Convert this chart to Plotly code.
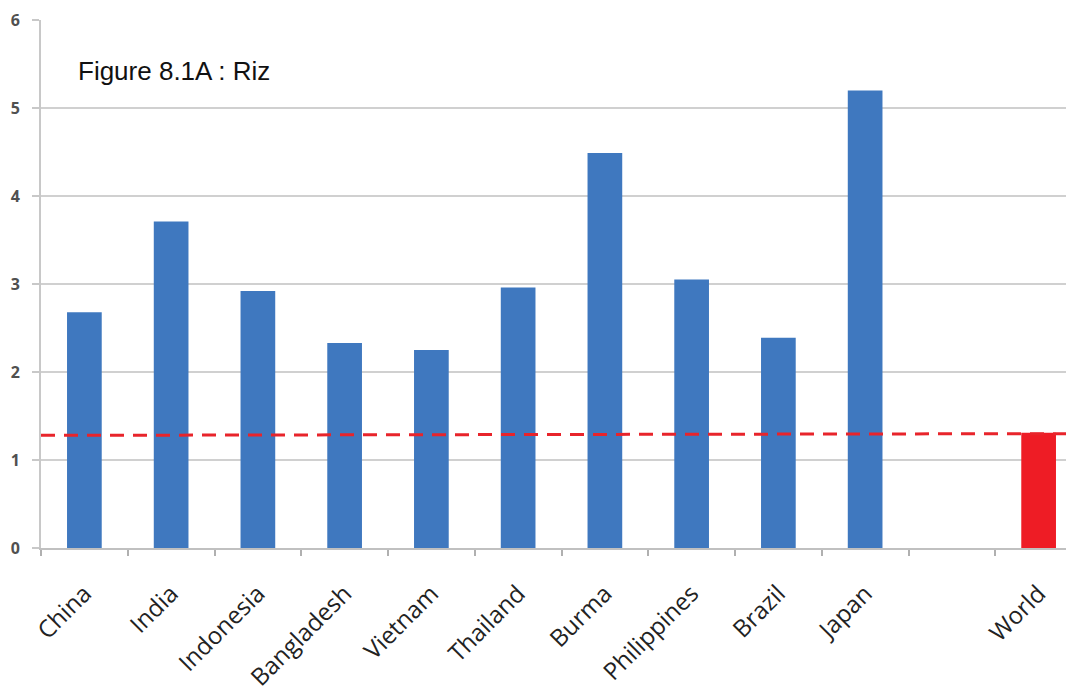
import plotly.graph_objects as go

categories = ["China", "India", "Indonesia", "Bangladesh", "Vietnam", "Thailand",
              "Burma", "Philippines", "Brazil", "Japan", "", "World"]
values = [2.68, 3.71, 2.92, 2.33, 2.25, 2.96, 4.49, 3.05, 2.39, 5.20, None, 1.31]
bar_colors = ["#3f78bf"] * 10 + ["#ffffff", "#ee1c25"]
world_line_x = [-0.5, 11.5]
world_line_y = [1.28, 1.30]
y_ticks = [0, 1, 2, 3, 4, 5, 6]
title_text = "Figure 8.1A : Riz"

positions = list(range(len(categories)))

fig = go.Figure()
fig.add_trace(go.Bar(
    x=positions, y=values, width=0.4,
    marker=dict(color=bar_colors, line=dict(width=0)),
    showlegend=False,
))
fig.add_trace(go.Scatter(
    x=world_line_x, y=world_line_y, mode="lines",
    line=dict(color="#e8242b", width=3, dash="14px,9px"),
    showlegend=False,
))

fig.update_layout(
    width=1074, height=693,
    margin=dict(l=33, r=0, t=12, b=153),
    paper_bgcolor="white", plot_bgcolor="white",
    font=dict(family="Open Sans", color="#222222"),
    annotations=[dict(
        text=title_text, xref="paper", yref="paper",
        x=0.034, y=0.903, xanchor="left", yanchor="middle",
        showarrow=False,
        font=dict(family="Liberation Sans Narrow, Liberation Sans", size=26, color="#111111"),
    )],
)
fig.update_xaxes(
    range=[-0.5, 11.5], automargin=False,
    tickmode="array", tickvals=positions, ticktext=categories,
    tickangle=-45, ticks="", ticklen=0, ticklabelstandoff=20,
    tickfont=dict(size=24, color="#222222", family="Open Sans"),
    showgrid=False, zeroline=False,
    showline=True, linecolor="#c0c0c0", linewidth=2,
    minor=dict(tickmode="linear", tick0=0.5, dtick=1, ticks="outside",
               ticklen=6, tickcolor="#b0b0b0", tickwidth=2, showgrid=False),
)
fig.update_yaxes(
    range=[0, 6], tickmode="array", tickvals=y_ticks, automargin=False,
    ticks="outside", ticklen=7, tickcolor="#c8c8c8", tickwidth=2,
    ticklabelstandoff=9,
    tickfont=dict(size=16, color="#505050", family="Open Sans", weight="bold"),
    showgrid=True, gridcolor="#d0d0d0", gridwidth=2,
    zeroline=False, showline=True, linecolor="#c8c8c8", linewidth=2,
)

fig.write_html("out.html")
